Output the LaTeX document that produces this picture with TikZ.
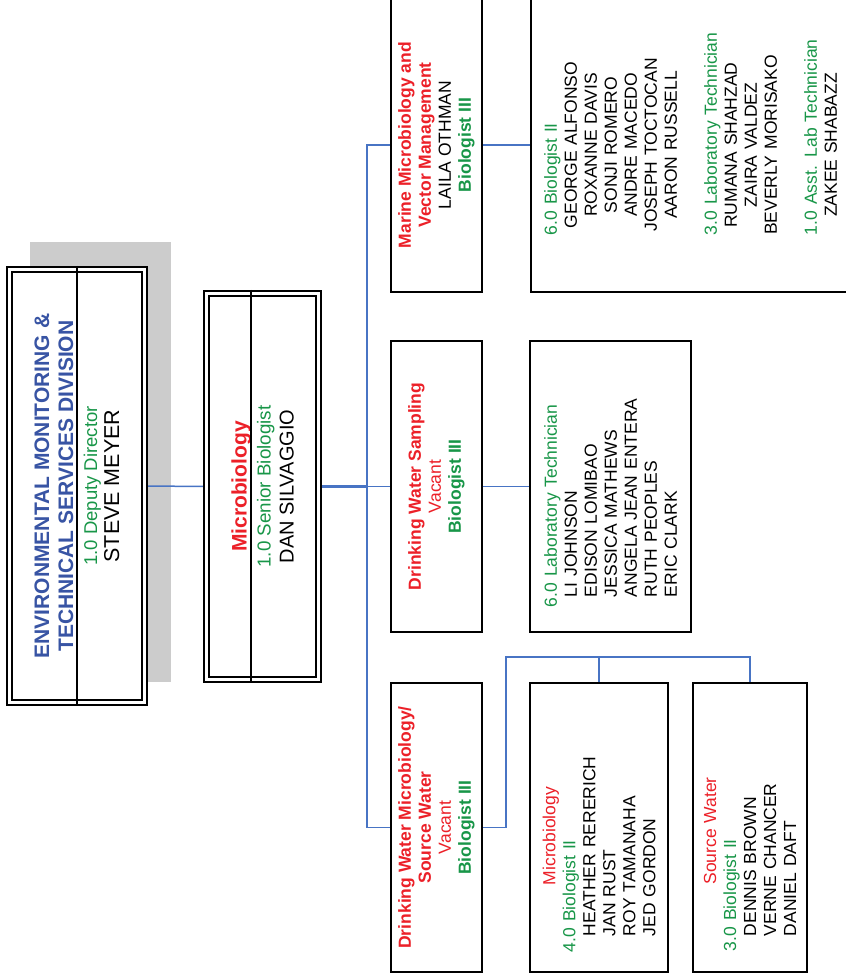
\documentclass[tikz,border=0pt]{standalone}
\usepackage{fontspec}
\setmainfont{Liberation Sans}
\usetikzlibrary{backgrounds}
\definecolor{titleblue}{RGB}{56,84,164}
\definecolor{rolegreen}{RGB}{24,150,72}
\definecolor{unitred}{RGB}{236,32,40}
\definecolor{linkblue}{RGB}{72,116,196}
\definecolor{shadowgrey}{RGB}{204,204,204}

\begin{document}
\begin{tikzpicture}[x=1pt,y=-1pt]
        \tikzset{unitbox/.style={draw,
                line width=1.6pt,
                fill=white,
                rotate=90,
                inner sep=0pt,
                align=center,
                font=\fontsize{17.5}{20}\selectfont
            },
            headbox/.style={unitbox,
                double,
                line width=1.4pt,
                double distance=3.5pt
            },
            staffbox/.style={unitbox, align=left},
            connector/.style={draw=linkblue, line width=1.5pt},
        }
        \useasboundingbox (0,0) rectangle (846,980);
        \node [headbox, minimum width=433pt, minimum height=135pt,
            font=\fontsize{21}{24}\selectfont] (div) at (77,486)
            {\textcolor{titleblue}{\bfseries ENVIRONMENTAL MONITORING \&}\\
             \textcolor{titleblue}{\bfseries TECHNICAL SERVICES DIVISION}\\
             \textcolor{rolegreen}{\fontsize{18.5}{21}\selectfont 1.0 Deputy Director}\\[-2pt]
             {\fontsize{21.5}{24}\selectfont STEVE MEYER}};
        \node [headbox, minimum width=386pt, minimum height=112pt,
            font=\fontsize{20}{24}\selectfont] (mic) at (262.5,486.5)
            {\textcolor{unitred}{\bfseries\fontsize{21}{24}\selectfont Microbiology}\\
             \textcolor{rolegreen}{\fontsize{18.8}{24}\selectfont 1.0 Senior Biologist}\\[-1pt]
             DAN SILVAGGIO};
        \node [unitbox, minimum width=294pt, minimum height=91pt] (marine) at (436.5,145)
            {\textcolor{unitred}{\bfseries Marine Microbiology and}\\
             \textcolor{unitred}{\bfseries Vector Management}\\
             LAILA OTHMAN\\
             \textcolor{rolegreen}{\bfseries Biologist III}};
        \node [unitbox, minimum width=291pt, minimum height=91pt] (dws) at (436.5,486.5)
            {\textcolor{unitred}{\bfseries Drinking Water Sampling}\\
             \textcolor{unitred}{Vacant}\\
             \textcolor{rolegreen}{\bfseries Biologist III}};
        \node [unitbox, minimum width=289pt, minimum height=91pt] (dwm) at (436.5,827.5)
            {\textcolor{unitred}{\bfseries Drinking Water Microbiology/}\\
             \textcolor{unitred}{\bfseries Source Water}\\
             \textcolor{unitred}{Vacant}\\
             \textcolor{rolegreen}{\bfseries Biologist III}};
        \node [unitbox, minimum width=294pt, minimum height=319pt,
            text width=180pt] (mstaff) at (690.5,145)
            {\makebox[\linewidth][l]{\textcolor{rolegreen}{6.0 Biologist II}}\\
             GEORGE ALFONSO\\ ROXANNE DAVIS\\ SONJI ROMERO\\
             ANDRE MACEDO\\ JOSEPH TOCTOCAN\\ AARON RUSSELL\\[20pt]
             \makebox[\linewidth][l]{\textcolor{rolegreen}{3.0 Laboratory Technician}}\\
             RUMANA SHAHZAD\\ ZAIRA VALDEZ\\ BEVERLY MORISAKO\\[20pt]
             \makebox[\linewidth][l]{\textcolor{rolegreen}{1.0 Asst. Lab Technician}}\\
             ZAKEE SHABAZZ};
        \node [staffbox, minimum width=291pt, minimum height=161pt,
            text width=241pt] (lab) at (610.5,486.5)
            {\textcolor{rolegreen}{6.0 Laboratory Technician}\\
             \hspace*{10pt}LI JOHNSON\\ \hspace*{10pt}EDISON LOMIBAO\\
             \hspace*{10pt}JESSICA MATHEWS\\ \hspace*{10pt}ANGELA JEAN ENTERA\\
             \hspace*{10pt}RUTH PEOPLES\\ \hspace*{10pt}ERIC CLARK};
        \node [staffbox, minimum width=289pt, minimum height=138pt,
            text width=249pt] (bio) at (599,827.5)
            {\makebox[\linewidth][c]{\textcolor{unitred}{Microbiology}\hspace*{17pt}}\\
             \textcolor{rolegreen}{4.0 Biologist II}\\
             \hspace*{16pt}HEATHER RERERICH\\ \hspace*{16pt}JAN RUST\\
             \hspace*{16pt}ROY TAMANAHA\\ \hspace*{16pt}JED GORDON};
        \node [staffbox, minimum width=289pt, minimum height=114pt,
            text width=247pt] (src) at (750,827.5)
            {\makebox[\linewidth][c]{\textcolor{unitred}{Source Water}\hspace*{7pt}}\\
             \textcolor{rolegreen}{3.0 Biologist II}\\
             \hspace*{15pt}DENNIS BROWN\\ \hspace*{15pt}VERNE CHANCER\\
             \hspace*{15pt}DANIEL DAFT};
        % dividers
        \draw[line width=1.4pt, shorten <=-3pt, shorten >=-3pt] (div.east) -- (div.west);
        \draw[line width=1.4pt, shorten <=-3pt, shorten >=-3pt]
            ([xshift=-11.5pt]mic.east) -- ([xshift=-11.5pt]mic.west);
%% paths
\begin{scope}[on background layer]
    \fill[shadowgrey] (30,242) rectangle (171,682);
    \coordinate (trunk) at (367,486.5);
    \coordinate (split) at (506,657);
    \path[connector] (div.south) -- (mic.north);
    \path[connector, line width=2.5pt] (mic.south) -- (trunk);
    \path[connector] (marine.north) -| (trunk) |- (dwm.north);
    \path[connector] (trunk) -- (dws.north);
    \path[connector] (marine.south) -- (mstaff.north);
    \path[connector] (dws.south) -- (lab.north);
    \path[connector] (dwm.south) -| (split) -| (src.east);
    \path[connector] (split) -| (bio.east);
\end{scope}
\end{tikzpicture}
\end{document}
